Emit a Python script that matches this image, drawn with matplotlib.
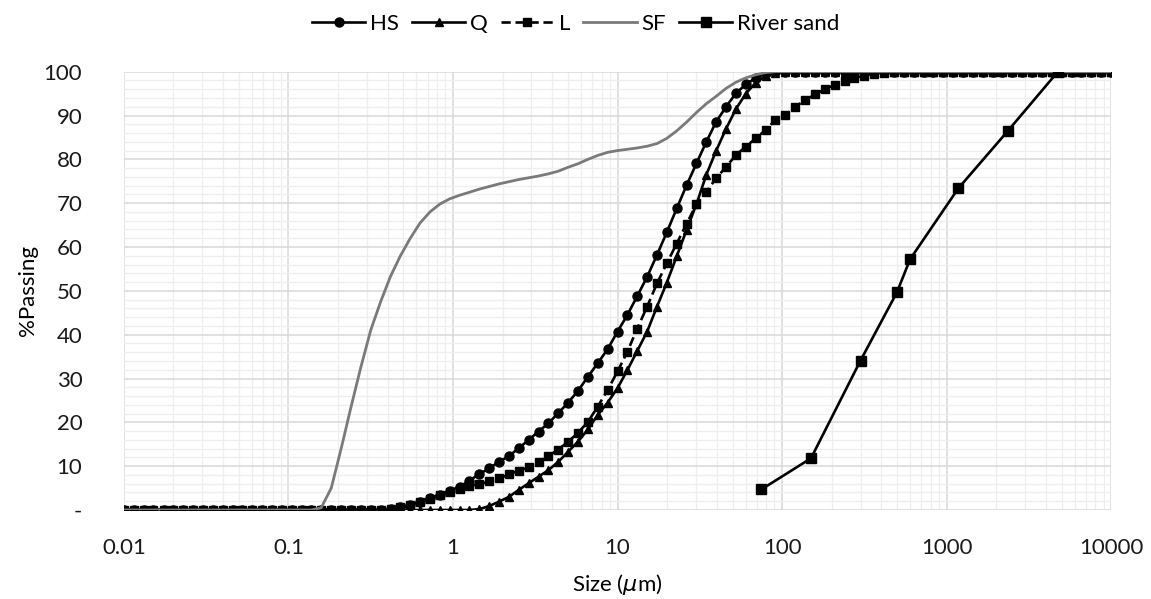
import matplotlib
matplotlib.use("Agg")
import matplotlib.pyplot as plt
from matplotlib.ticker import FixedLocator, FuncFormatter, MultipleLocator, NullFormatter

plt.rcParams['font.family'] = ['Lato', 'DejaVu Sans']

# size classes (um)
sizes = [0.01, 0.0115, 0.0132, 0.0151, 0.0174, 0.0200, 0.0229, 0.0263, 0.0302, 0.0347,
         0.0398, 0.0457, 0.0525, 0.0603, 0.0692, 0.0794, 0.0912, 0.105, 0.120, 0.138,
         0.158, 0.182, 0.209, 0.240, 0.275, 0.316, 0.363, 0.417, 0.479, 0.550,
         0.631, 0.724, 0.832, 0.955, 1.096, 1.259, 1.445, 1.660, 1.905, 2.188,
         2.512, 2.884, 3.311, 3.802, 4.365, 5.012, 5.754, 6.607, 7.586, 8.710,
         10.00, 11.48, 13.18, 15.14, 17.38, 19.95, 22.91, 26.30, 30.20, 34.67,
         39.81, 45.71, 52.48, 60.26, 69.18, 79.43, 91.20, 104.7, 120.2, 138.0,
         158.5, 182.0, 208.9, 239.9, 275.4, 316.2, 363.1, 416.9, 478.6, 549.5,
         631.0, 724.4, 831.8, 955.0, 1096, 1259, 1445, 1660, 1905, 2188,
         2512, 2884, 3311, 3802, 4365, 5012, 5754, 6607, 7586, 8710, 10000]

hs = [0] * 27 + [0.2, 0.6, 1.1, 1.9, 2.7, 3.4, 4.4, 5.3, 6.7, 8.2,
                 9.5, 11.0, 12.3, 14.1, 16.0, 17.9, 19.8, 22.1, 24.5, 27.2,
                 30.4, 33.5, 36.7, 40.7, 44.5, 48.8, 53.2, 58.2, 63.4, 68.8,
                 74.1, 79.1, 84.0, 88.6, 92.0, 95.1, 97.1, 98.6, 99.6] + [100] * 35

q = [0] * 36 + [0.2, 0.9, 1.9, 3.0, 4.6, 6.1, 7.6, 9.1, 11.0, 13.3,
                15.6, 18.4, 21.7, 24.5, 27.8, 31.9, 36.3, 40.7, 46.4, 51.9,
                57.9, 63.9, 69.8, 76.5, 82.0, 87.0, 91.5, 95.0, 97.5, 99.0,
                99.8] + [100] * 34

l = [0] * 27 + [0.2, 0.6, 1.1, 1.8, 2.6, 3.4, 4.2, 4.9, 5.5, 5.9,
                6.5, 7.2, 8.1, 9.0, 9.7, 11.0, 12.3, 13.8, 15.6, 17.6,
                20.1, 23.6, 27.4, 31.6, 36.1, 41.4, 46.4, 51.7, 56.3, 60.8,
                65.3, 69.8, 72.6, 75.7, 78.3, 81.0, 82.9, 84.8, 86.7, 89.0,
                90.1, 92.0, 93.5, 94.8, 96.0, 97.0, 97.9, 98.6, 99.1, 99.5,
                99.8] + [100] * 23

sf = [0] * 20 + [0.5, 5.0, 14.0, 23.5, 32.5, 41.0, 47.5, 53.3, 58.0, 62.0,
                 65.5, 68.0, 69.8, 71.0, 71.8, 72.5, 73.2, 73.8, 74.4, 74.9,
                 75.4, 75.8, 76.2, 76.7, 77.3, 78.2, 79.0, 80.0, 80.9, 81.6,
                 82.0, 82.3, 82.6, 83.0, 83.6, 84.8, 86.5, 88.5, 90.7, 92.7,
                 94.4, 96.2, 97.6, 98.6, 99.3, 99.8] + [100] * 35

# sieve analysis
sand_sizes = [75, 150, 300, 500, 600, 1180, 2360, 4750]
sand_pass = [4.7, 11.8, 34.1, 49.7, 57.2, 73.4, 86.5, 100]

x_ticks = [0.01, 0.1, 1, 10, 100, 1000, 10000]
x_minor = [m * d for d in [0.01, 0.1, 1, 10, 100, 1000] for m in range(2, 10)]

fig = plt.figure(figsize=(11.51, 5.99), dpi=100)
ax = fig.add_axes([0.1077, 0.1486, 0.8576, 0.7317])

ax.plot(sizes, hs, color='black', lw=1.9, marker='o', ms=6.5, label='HS')
ax.plot(sizes, q, color='black', lw=1.9, marker='^', ms=6, label='Q')
ax.plot(sizes, l, color='black', lw=1.9, ls=(0, (3.5, 1.8)), marker='s', ms=5.8, label='L')
ax.plot(sizes, sf, color='#7a7a7a', lw=2.0, label='SF')
ax.plot(sand_sizes, sand_pass, color='black', lw=1.9, marker='s', ms=6.5, label='River sand')

ax.set_xscale('log')
ax.set_xlim(0.01, 10000)
ax.set_ylim(0, 100)

ax.xaxis.set_major_locator(FixedLocator(x_ticks))
ax.xaxis.set_minor_locator(FixedLocator(x_minor))
ax.xaxis.set_major_formatter(FuncFormatter(lambda v, p: '{:g}'.format(v)))
ax.xaxis.set_minor_formatter(NullFormatter())
ax.yaxis.set_major_locator(MultipleLocator(10))
ax.yaxis.set_minor_locator(MultipleLocator(2))
ax.yaxis.set_major_formatter(FuncFormatter(lambda v, p: '-' if v == 0 else '{:d}'.format(int(v))))
ax.yaxis.set_minor_formatter(NullFormatter())

ax.grid(True, which='major', color='#d9d9d9', lw=1.1)
ax.grid(True, which='minor', color='#eeeeee', lw=0.9)
ax.set_axisbelow(True)
for s in ax.spines.values():
    s.set_visible(False)
ax.tick_params(which='both', length=0, labelsize=16, colors='#1a1a1a')
ax.tick_params(axis='x', pad=20)
ax.tick_params(axis='y', pad=30)

ax.set_xlabel(r'Size ($\mu$m)', fontsize=16, labelpad=10)
ax.set_ylabel('%Passing', fontsize=16, labelpad=4)

fig.legend(loc='upper center', bbox_to_anchor=(0.5, 1.01), ncol=5, frameon=False,
           fontsize=16, handlelength=2.4, columnspacing=0.6, handletextpad=0.2)

fig.savefig('out.png', dpi=100)
